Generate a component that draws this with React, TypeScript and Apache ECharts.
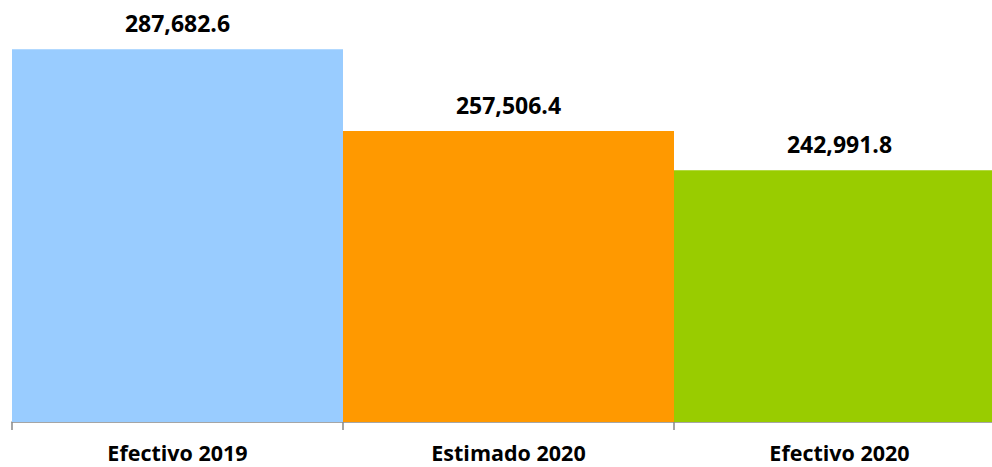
import React, { useEffect, useRef } from "react";
import * as echarts from "echarts";

const categories = ["Efectivo 2019", "Estimado 2020", "Efectivo 2020"];
const values = [287682.6, 257506.4, 242991.8];
const barColors = ["#99CCFF", "#FF9900", "#99CC00"];

const fmt = (v: number) =>
  v.toLocaleString("en-US", { minimumFractionDigits: 1, maximumFractionDigits: 1 });

export default function App() {
  const ref = useRef<HTMLDivElement>(null);
  useEffect(() => {
    if (!ref.current) return;
    const chart = echarts.init(ref.current, undefined, { renderer: "svg" });
    chart.setOption({
      animation: false,
      grid: { left: 12, right: 0, top: 16, bottom: 45, containLabel: false },
      xAxis: {
        type: "category",
        data: categories,
        boundaryGap: true,
        axisLine: { lineStyle: { color: "#888888", width: 1.5 } },
        axisTick: { show: true, length: 8, lineStyle: { color: "#888888", width: 1.5 } },
        axisLabel: {
          margin: 20,
          fontFamily: "Open Sans",
          fontWeight: "bold",
          fontSize: 21.5,
          lineHeight: 20,
          color: "#000000",
          interval: 0,
        },
      },
      yAxis: {
        type: "value",
        min: 150000,
        max: 300000,
        show: false,
        splitLine: { show: false },
      },
      series: [
        {
          type: "bar",
          barCategoryGap: "0%",
          data: values.map((v, i) => ({
            value: v,
            itemStyle: { color: barColors[i], borderWidth: 0 },
          })),
          label: {
            show: true,
            position: "top",
            distance: 15,
            formatter: (p: any) => fmt(p.value),
            fontFamily: "Open Sans",
            fontWeight: "bold",
            fontSize: 23,
            color: "#000000",
          },
        },
      ],
    });
    return () => chart.dispose();
  }, []);
  return (
    <div
      style={{
        position: "fixed",
        left: 0,
        top: 0,
        width: 992,
        height: 467,
        overflow: "hidden",
        background: "#ffffff",
      }}
    >
      <div ref={ref} style={{ width: 1005, height: 467 }} />
    </div>
  );
}
